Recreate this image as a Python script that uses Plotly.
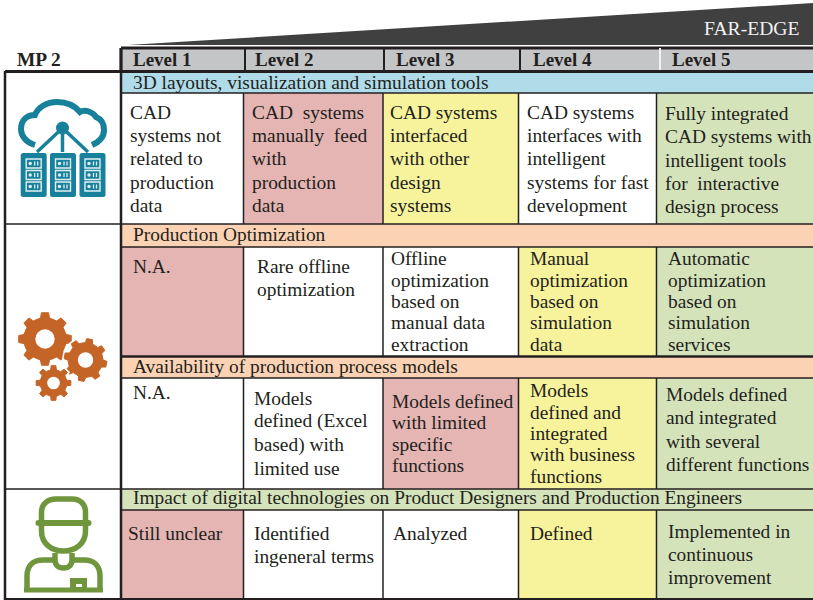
import math
import plotly.graph_objects as go

# ---- content ----
MP_LABEL = "MP 2"
TOP_LABEL = "FAR-EDGE"
LEVELS = ["Level 1", "Level 2", "Level 3", "Level 4", "Level 5"]
BANDS = [
    "3D layouts, visualization and simulation tools",
    "Production Optimization",
    "Availability of production process models",
    "Impact of digital technologies on Product Designers and Production Engineers",
]
ROW1 = [
    ["CAD", "systems not", "related to", "production", "data"],
    ["CAD\u00a0\u00a0systems", "manually\u00a0\u00a0feed", "with", "production", "data"],
    ["CAD systems", "interfaced", "with other", "design", "systems"],
    ["CAD systems", "interfaces with", "intelligent", "systems for fast", "development"],
    ["Fully integrated", "CAD systems with", "intelligent tools", "for\u00a0\u00a0interactive", "design process"],
]
ROW2 = [
    ["N.A."],
    ["Rare offline", "optimization"],
    ["Offline", "optimization", "based on", "manual data", "extraction"],
    ["Manual", "optimization", "based on", "simulation", "data"],
    ["Automatic", "optimization", "based on", "simulation", "services"],
]
ROW3 = [
    ["N.A."],
    ["Models", "defined (Excel", "based) with", "limited use"],
    ["Models defined", "with limited", "specific", "functions"],
    ["Models", "defined and", "integrated", "with business", "functions"],
    ["Models defined", "and integrated", "with several", "different functions"],
]
ROW4 = [
    ["Still unclear"],
    ["Identified", "ingeneral terms"],
    ["Analyzed"],
    ["Defined"],
    ["Implemented in", "continuous", "improvement"],
]
ROW_TEXTS = [ROW1, ROW2, ROW3, ROW4]

# ---- palette ----
INK = "#231f20"
PINK, YEL, GRN, WHT = "#e4b5b2", "#f7f29c", "#d5e3bb", "#ffffff"
ROW_FILLS = [
    [WHT, PINK, YEL, WHT, GRN],
    [PINK, WHT, WHT, YEL, GRN],
    [WHT, WHT, PINK, YEL, GRN],
    [PINK, WHT, WHT, YEL, GRN],
]
BAND_FILLS = ["#b0dcea", "#fbd3b4", "#fbd3b4", "#d5e3bb"]

# ---- layout geometry (pixels of the 813x600 page) ----
XL, XC, XR = 5, 121, 813
COLS = [121.5, 243.5, 383, 518.5, 656.5, 813]
HEAD_COLS = [245, 384, 520, 660]
BAND_Y = [(71.5, 93), (224, 247), (356.5, 378), (489, 510)]
ROW_Y = [(93, 224), (247, 356.5), (378, 489), (510, 599)]
FS = 19.4

TEXT_X = [
    [130, 252, 390, 527, 665],
    [133, 257, 391, 530, 668],
    [133, 254, 392, 530, 666],
    [128, 254, 393, 530, 668],
]
TEXT_Y = [
    [[113, 136, 159, 183, 206]] * 4 + [[114, 137, 161, 184, 207]],
    [[267], [267, 290], [259, 281, 302, 323, 345], [259, 281, 302, 323, 345], [259, 281, 302, 323, 345]],
    [[393], [399, 422, 446, 469], [402, 423, 445, 466], [391, 413, 434, 455, 477], [395, 418, 442, 465]],
    [[534], [534, 557], [534], [534], [532, 555, 578]],
]
BAND_TEXT_Y = [83, 235, 367, 498]
HEAD_X = [133, 255, 396, 533, 672]

shapes, annos = [], []


def rect(x0, y0, x1, y1, fill, line=None, w=0):
    shapes.append(dict(type="rect", x0=x0, y0=y0, x1=x1, y1=y1, xref="x", yref="y",
                       fillcolor=fill, line=dict(color=line or fill, width=w)))


def line(x0, y0, x1, y1, w=2, c=INK):
    shapes.append(dict(type="line", x0=x0, y0=y0, x1=x1, y1=y1, xref="x", yref="y",
                       line=dict(color=c, width=w)))


def path(d, fill="rgba(0,0,0,0)", c=None, w=0):
    shapes.append(dict(type="path", path=d, xref="x", yref="y", fillcolor=fill,
                       line=dict(color=c or "rgba(0,0,0,0)", width=w)))


def circle(cx, cy, r, fill):
    shapes.append(dict(type="circle", x0=cx - r, x1=cx + r, y0=cy - r, y1=cy + r,
                       xref="x", yref="y", fillcolor=fill, line=dict(width=0)))


def text(x, y, s, bold=False, color=INK, anchor="left", size=FS):
    annos.append(dict(x=x, y=y - 0.8, xref="x", yref="y", text=f"<b>{s}</b>" if bold else s,
                      showarrow=False, xanchor=anchor, yanchor="middle", borderpad=0, borderwidth=0,
                      font=dict(family="Liberation Serif", size=size, color=color)))


# wedge
path("M128,45 L813,3 L813,45 Z", fill="#404040")

# header
rect(XC, 48, XR, 71, "#c4c5c7")
line(XC, 48, XR, 48, 3)
line(XC, 48, XC, 72, 3)
for i, x in enumerate(HEAD_COLS):
    line(x, 48, x, 71, 2, INK if i < 3 else "#f2f2f2")

# bands and cells
for (y0, y1), fill in zip(BAND_Y, BAND_FILLS):
    rect(COLS[0], y0, XR, y1, fill)
for (y0, y1), fills in zip(ROW_Y, ROW_FILLS):
    for c, fill in enumerate(fills):
        rect(COLS[c], y0, COLS[c + 1], y1, fill)
    for x in COLS[1:5]:
        line(x, y0, x, y1, 1.5)
for y0, y1 in BAND_Y:
    line(COLS[0], y1, XR, y1, 1.5)
line(XC, 71.5, XR, 71.5, 3)
line(XL, 224, XR, 224, 1.5)
line(XC, 356.5, XR, 356.5, 2.5)
line(XL, 489, XR, 489, 1.5)

# left frame
line(XL, 71.5, XC, 71.5, 3)
line(XL, 71, XL, 600, 2.5)
line(XC, 48, XC, 600, 2.5)
line(XL, 599, XR, 599, 2)

# --- icon 1: cloud over servers ---
TEAL = "#17809b"
PALE = "#e2f0f4"
path("M35,145 C25,142 21,135 21,129 C21,120 27,115 35,115 C38,107 47,102 57,102 "
     "C68,102 75,106 80,112 C85,109 93,112 96,117 C101,119 104,124 104,130 C104,137 99,142 92,145",
     c=TEAL, w=6)
for xe in (37, 62.5, 88):
    line(62.5, 128, xe, 152, 3.5, TEAL)
circle(62.5, 128, 6.5, TEAL)
for sx in (20.7, 50, 79.5):
    x0, x1, y0, y1, r = sx, sx + 26, 153, 197, 2.5
    path(f"M{x0+r},{y0} L{x1-r},{y0} Q{x1},{y0} {x1},{y0+r} L{x1},{y1-r} Q{x1},{y1} {x1-r},{y1} "
         f"L{x0+r},{y1} Q{x0},{y1} {x0},{y1-r} L{x0},{y0+r} Q{x0},{y0} {x0+r},{y0} Z", fill=TEAL)
    for sy in (159, 170.5, 182):
        shapes.append(dict(type="rect", x0=sx + 5.5, x1=sx + 20.5, y0=sy, y1=sy + 9, xref="x", yref="y",
                           fillcolor=TEAL, line=dict(color=PALE, width=1.4)))
        circle(sx + 9.5, sy + 4.5, 1.7, PALE)
        line(sx + 14, sy + 2.5, sx + 14, sy + 6.5, 1.3, PALE)
        line(sx + 17, sy + 2.5, sx + 17, sy + 6.5, 1.3, PALE)


# --- icon 2: gears ---
def gear(cx, cy, ro, ri, hole, teeth, phase, halo=False, fill="#c46427"):
    pts = []
    step = 2 * math.pi / teeth
    for k in range(teeth):
        a = phase + k * step
        for da, r in ((-0.27, ri), (-0.17, ro), (0.17, ro), (0.27, ri)):
            pts.append((cx + r * math.cos(a + da * step), cy + r * math.sin(a + da * step)))
    d = "M" + " L".join(f"{x:.2f},{y:.2f}" for x, y in pts) + " Z"
    if halo:
        path(d, fill="#ffffff", c="#ffffff", w=4)
    path(d, fill=fill, c=fill, w=1)
    circle(cx, cy, hole, "#ffffff")


gear(45, 339, 26.5, 21.5, 9.7, 8, -math.pi / 2)
gear(85.5, 360, 21.5, 17.5, 7.7, 8, -math.pi / 2 + 0.2, halo=True)
gear(53.5, 383, 17.5, 13.5, 6.3, 8, -math.pi / 2, halo=True)

# --- icon 3: worker ---
OLV = "#6f963c"
path("M41.5,523 L41.5,512 C41.5,504 48,499 56,499 L72,499 C80,499 85.5,504 85.5,512 L85.5,523", c=OLV, w=5.5)
line(38.5, 523, 88.5, 523, 6, OLV)
circle(38.5, 523, 3, OLV)
circle(88.5, 523, 3, OLV)
path("M41.5,523 L41.5,531 C41.5,544 52,551 63.5,551 C75,551 85.5,544 85.5,531 L85.5,523", c=OLV, w=5.5)
path("M27,590 L27,576 C27,566 33,560 43,560 L55,560", c=OLV, w=5.5)
path("M100,590 L100,576 C100,566 94,560 84,560 L72,560", c=OLV, w=5.5)
path("M55,553 L55,560 C55,565 58,568 63.5,568 C69,568 72,565 72,560 L72,553", c=OLV, w=5.5)
line(24, 590, 103, 590, 5, OLV)
rect(70, 578, 87, 592, OLV)
rect(76, 584, 82, 587, "#ffffff")

# ---- text ----
text(17, 60, MP_LABEL, bold=True)
text(799, 29, TOP_LABEL, color="#f2f2f2", anchor="right", size=19.6)
for x, s in zip(HEAD_X, LEVELS):
    text(x, 60, s, bold=True, size=19)
for y, s in zip(BAND_TEXT_Y, BANDS):
    text(133, y, s)
for r, cols in enumerate(ROW_TEXTS):
    for c, lines_ in enumerate(cols):
        for y, s in zip(TEXT_Y[r][c], lines_):
            text(TEXT_X[r][c], y, s)

fig = go.Figure()
fig.update_layout(
    width=813, height=600, autosize=False, showlegend=False,
    margin=dict(l=0, r=0, t=0, b=0), paper_bgcolor="white", plot_bgcolor="white",
    xaxis=dict(range=[0, 813], visible=False, fixedrange=True),
    yaxis=dict(range=[600, 0], visible=False, fixedrange=True),
    shapes=shapes, annotations=annos,
)
fig.write_html("out.html", config={"displayModeBar": False},
               post_script="document.body.style.margin='0';")
